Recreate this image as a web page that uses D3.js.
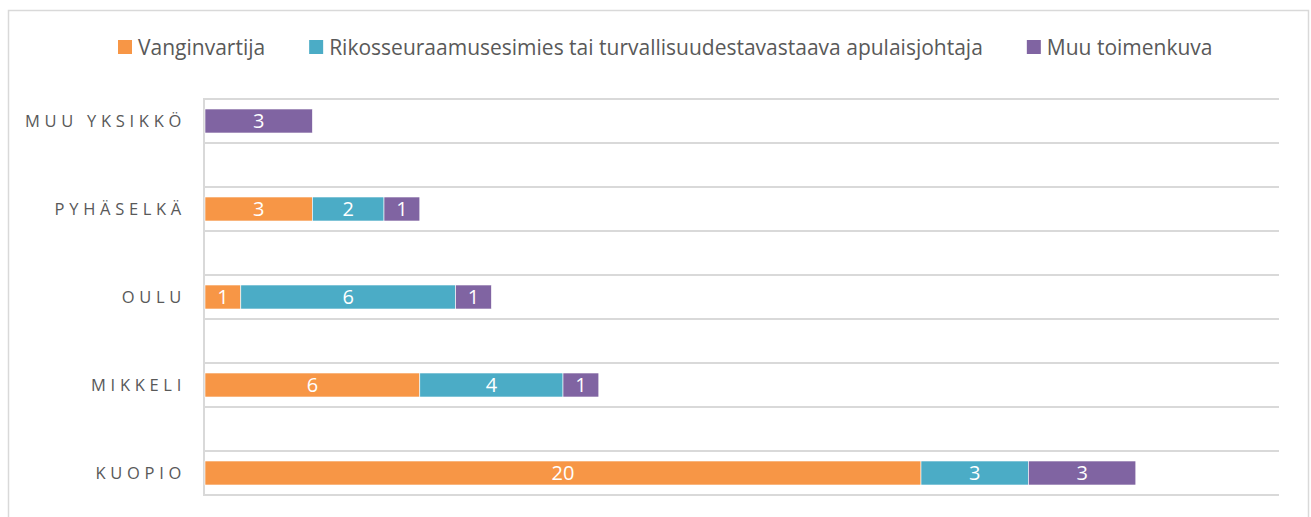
<!DOCTYPE html>
<html>
  <head>
    <meta charset="utf-8">
    <title>Vastaajat yksiköittäin</title>
    <script src="https://d3js.org/d3.v7.min.js"></script>
    <style>
      body { margin: 0; background: #fff; }
      text { font-family: "Open Sans", sans-serif; }
    </style>
  </head>
  <body>
  </body>
</html>

<script>
  var width = 1311
  var height = 517

  // data, top to bottom
  var categories = ["MUU YKSIKKÖ", "PYHÄSELKÄ", "OULU", "MIKKELI", "KUOPIO"]
  var seriesNames = ["Vanginvartija", "Rikosseuraamusesimies tai turvallisuudestavastaava apulaisjohtaja", "Muu toimenkuva"]
  var vanginvartija = [0, 3, 1, 6, 20]
  var esimies = [0, 2, 6, 4, 3]
  var muu = [3, 1, 1, 1, 3]

  var colors = ["#f79646", "#4bacc6", "#8064a2"]

  var rows = categories.map(function(c, i) {
    return { cat: c, "0": vanginvartija[i], "1": esimies[i], "2": muu[i] }
  })

  var svg = d3.select("body")
              .append("svg")
              .attr("width", width)
              .attr("height", height)

  // outer frame
  svg.append("rect")
     .attr("x", 8.5).attr("y", 10.5)
     .attr("width", 1300).attr("height", 530)
     .attr("fill", "none")
     .attr("stroke", "#d9d9d9")
     .attr("stroke-width", 1.5)

  var x = d3.scaleLinear()
            .domain([0, 30])
            .range([205, 1279])

  var y = d3.scaleBand()
            .domain(categories)
            .range([77, 517])

  var barH = 24

  // gridlines above and below each bar
  var grid = svg.append("g")
  categories.forEach(function(c) {
    var cy = y(c) + y.bandwidth() / 2
    ;[-22, 22].forEach(function(off) {
      grid.append("line")
          .attr("x1", 204).attr("x2", x(30))
          .attr("y1", cy + off).attr("y2", cy + off)
          .attr("stroke", "#d9d9d9")
          .attr("stroke-width", 2)
    })
  })

  // category axis line
  var c0 = y(categories[0]) + y.bandwidth() / 2
  var c4 = y(categories[4]) + y.bandwidth() / 2
  svg.append("line")
     .attr("x1", 204).attr("x2", 204)
     .attr("y1", c0 - 23).attr("y2", c4 + 23)
     .attr("stroke", "#d9d9d9")
     .attr("stroke-width", 2)

  var stack = d3.stack().keys(["0", "1", "2"])(rows)

  var layer = svg.selectAll(".layer")
                 .data(stack)
                 .enter()
                 .append("g")
                 .attr("fill", function(d, i) { return colors[i] })

  layer.selectAll("rect")
       .data(function(d) { return d.filter(function(p) { return p[1] > p[0] }) })
       .enter()
       .append("rect")
       .attr("x", function(d) { return x(d[0]) })
       .attr("y", function(d) { return y(d.data.cat) + y.bandwidth() / 2 - barH / 2 })
       .attr("width", function(d) { return x(d[1]) - x(d[0]) })
       .attr("height", barH)
       .attr("stroke", "#fff")
       .attr("stroke-width", 0.6)

  layer.selectAll("text")
       .data(function(d) { return d.filter(function(p) { return p[1] > p[0] }) })
       .enter()
       .append("text")
       .attr("x", function(d) { return (x(d[0]) + x(d[1])) / 2 })
       .attr("y", function(d) { return y(d.data.cat) + y.bandwidth() / 2 + 7 })
       .attr("text-anchor", "middle")
       .attr("fill", "#fff")
       .style("font-size", "20px")
       .text(function(d) { return d[1] - d[0] })

  // category labels
  svg.selectAll(".cat")
     .data(categories)
     .enter()
     .append("text")
     .attr("class", "cat")
     .attr("x", 186)
     .attr("y", function(d) { return y(d) + y.bandwidth() / 2 + 6 })
     .attr("text-anchor", "end")
     .attr("fill", "#595959")
     .style("font-size", "16.5px")
     .style("letter-spacing", "4.7px")
     .text(function(d) { return d })

  // legend
  var legend = svg.append("g").attr("transform", "translate(118,0)")
  var lx = 0
  seriesNames.forEach(function(name, i) {
    var g = legend.append("g").attr("transform", "translate(" + lx + ",0)")
    g.append("rect")
     .attr("x", 0).attr("y", 40)
     .attr("width", 14).attr("height", 14)
     .attr("fill", colors[i])
    var t = g.append("text")
             .attr("x", 20).attr("y", 55)
             .attr("fill", "#595959")
             .style("font-size", "21px")
             .text(name)
    lx += 20 + t.node().getComputedTextLength() + 44
  })
</script>
